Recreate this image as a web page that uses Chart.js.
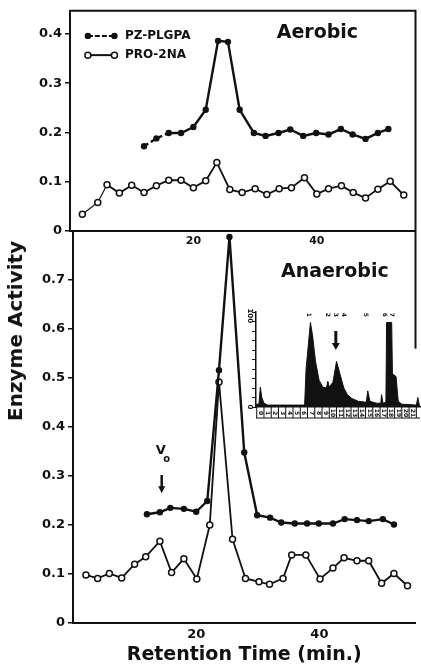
<!DOCTYPE html>
<html>
<head>
<meta charset="utf-8">
<title>Enzyme Activity</title>
<script src="https://cdn.jsdelivr.net/npm/chart.js@4.4.1/dist/chart.umd.min.js"></script>
<style>
  body { margin: 0; background: #fff; }
  #wrap { position: relative; width: 421px; height: 666px; overflow: hidden; background: #fff; }
  #wrap canvas { position: absolute; }
  #ytitle {
    position: absolute; left: 15px; top: 331px;
    font: bold 20px "DejaVu Sans"; color: #111; white-space: nowrap;
    transform: translate(-50%, -50%) rotate(-90deg);
  }
</style>
</head>
<body>
<div id="wrap">
  <canvas id="bottomChart" width="421" height="666" style="left:0;top:0"></canvas>
  <canvas id="topChart" width="421" height="250" style="left:0;top:0"></canvas>
  <canvas id="insetChart" width="185" height="125" style="left:236px;top:296px"></canvas>
  <div id="ytitle">Enzyme Activity</div>
</div>
<script>
// Aerobic run (top panel), retention time in min
const aeroPzTime = [12, 14, 16, 18, 20, 22, 24, 25.6, 27.5, 29.8, 31.7, 33.8, 35.7, 37.8, 39.9, 41.9, 43.9, 45.8, 47.9, 49.9, 51.6];
const aeroPzValue = [0.172, 0.188, 0.199, 0.199, 0.211, 0.246, 0.386, 0.384, 0.246, 0.199, 0.193, 0.199, 0.206, 0.193, 0.199, 0.196, 0.207, 0.196, 0.187, 0.199, 0.207];
const aeroProTime = [2, 4.5, 6, 8, 10, 12, 14, 16, 18, 20, 22, 23.8, 25.9, 27.9, 30, 31.9, 33.9, 35.9, 38, 40, 41.9, 44, 45.9, 47.9, 49.9, 51.9, 54.1];
const aeroProValue = [0.034, 0.058, 0.094, 0.077, 0.093, 0.078, 0.092, 0.103, 0.103, 0.088, 0.102, 0.139, 0.084, 0.078, 0.086, 0.074, 0.086, 0.088, 0.108, 0.075, 0.086, 0.092, 0.078, 0.067, 0.085, 0.101, 0.073];

// Anaerobic run (bottom panel)
const anaePzTime = [12, 14.1, 15.8, 18, 20, 21.8, 23.7, 25.4, 27.8, 29.9, 32, 33.8, 36, 38, 39.9, 42.2, 44.1, 46.1, 48, 50.3, 52.1];
const anaePzValue = [0.222, 0.226, 0.235, 0.233, 0.227, 0.249, 0.516, 0.788, 0.348, 0.220, 0.215, 0.205, 0.203, 0.203, 0.203, 0.203, 0.212, 0.210, 0.208, 0.212, 0.201];
const anaeProTime = [2.1, 4, 5.9, 7.9, 10, 11.8, 14.1, 16, 18, 20.1, 22.2, 23.7, 25.9, 28, 30.2, 31.9, 34.1, 35.5, 37.8, 40.1, 42.2, 44, 46.1, 48, 50.1, 52.1, 54.3];
const anaeProValue = [0.098, 0.091, 0.101, 0.092, 0.120, 0.135, 0.167, 0.103, 0.131, 0.090, 0.200, 0.492, 0.171, 0.091, 0.084, 0.079, 0.091, 0.139, 0.139, 0.090, 0.112, 0.133, 0.127, 0.127, 0.081, 0.101, 0.076];

// Inset chromatogram (relative absorbance, %)
const insetTime = [-0.6, -0.2, 0, 0.2, 0.5, 1, 6.1, 6.3, 6.9, 7.2, 7.6, 8.1, 8.6, 9.1, 9.3, 9.5, 10, 10.5, 11, 11.5, 12, 12.6, 13.5, 14.6, 14.8, 15.1, 16, 16.6, 16.7, 16.9, 17.3, 17.4, 18.1, 18.2, 18.7, 19, 19.5, 21.5, 21.7, 21.9, 22];
const insetValue = [3, 3, 21, 10, 4, 2, 2, 40, 89, 75, 48, 28, 21, 20, 27, 21, 26, 48, 34, 20, 13, 9, 6, 5, 17, 6, 4, 4, 13, 4, 5, 89, 89, 35, 32, 6, 3, 2, 10, 2, 2];
const insetPeakLabels = ['1', '2', '3', '4', '5', '6', '7'];
const insetPeakTimes = [6.6, 9.2, 10.3, 11.4, 14.5, 17.1, 18.1];

const FONT = 'DejaVu Sans';
const INK = '#111';

function pts(xs, ys) {
  return xs.map((x, i) => ({ x: x, y: ys[i] }));
}

// keep only the 0.1 steps up to a limit
function keepTenths(scale, top) {
  scale.ticks = scale.ticks.filter(t =>
    Math.abs(t.value * 10 - Math.round(t.value * 10)) < 1e-6 && t.value <= top + 1e-6);
}

function tickText(v) {
  return v === 0 ? '0' : (Math.round(v * 10) / 10).toFixed(1);
}

const pzStyle = {
  borderColor: INK, borderWidth: 2.4, pointRadius: 3.2,
  pointBackgroundColor: INK, pointBorderColor: INK, pointBorderWidth: 0
};
const proStyle = {
  borderColor: INK, borderWidth: 1.8, pointRadius: 3,
  pointBackgroundColor: '#fff', pointBorderColor: INK, pointBorderWidth: 1.5
};

function yAxis(max, top, width) {
  return {
    min: 0, max: max,
    afterFit: s => { s.width = width; },
    afterBuildTicks: s => keepTenths(s, top),
    border: { color: INK, width: 2 },
    grid: { drawOnChartArea: false, tickLength: 5, color: INK, lineWidth: 1.5 },
    ticks: { padding: 3, color: INK, font: { family: FONT, weight: 'bold', size: 13 }, callback: tickText }
  };
}

function xAxis(max, height, size, pad) {
  return {
    type: 'linear', min: 0, max: max,
    afterFit: s => { s.height = height; },
    border: { color: INK, width: 2 },
    grid: { display: false, drawTicks: false },
    ticks: { stepSize: 20, padding: pad, color: INK, font: { family: FONT, weight: 'bold', size: size },
      callback: v => (v === 20 || v === 40) ? v : '' }
  };
}

// frame, panel label and legend of the aerobic panel
const topDecor = {
  id: 'topDecor',
  afterDraw(chart) {
    const { ctx, chartArea: a, scales: { x, y } } = chart;
    ctx.save();
    ctx.strokeStyle = INK;
    ctx.lineWidth = 2;
    ctx.beginPath();
    ctx.moveTo(a.left, a.top);
    ctx.lineTo(a.right, a.top);
    ctx.lineTo(a.right, a.bottom);
    ctx.stroke();

    ctx.fillStyle = INK;
    ctx.font = 'bold 19px "' + FONT + '"';
    ctx.textAlign = 'center';
    ctx.textBaseline = 'middle';
    ctx.fillText('Aerobic', x.getPixelForValue(40.1), y.getPixelForValue(0.402));

    const x0 = x.getPixelForValue(2.9), x1 = x.getPixelForValue(7.2), tx = x.getPixelForValue(8.9);
    const rows = [y.getPixelForValue(0.396), y.getPixelForValue(0.357)];
    ctx.lineWidth = 2;
    ctx.setLineDash([5, 2]);
    ctx.beginPath(); ctx.moveTo(x0, rows[0]); ctx.lineTo(x1, rows[0]); ctx.stroke();
    ctx.setLineDash([]);
    ctx.beginPath(); ctx.moveTo(x0, rows[1]); ctx.lineTo(x1, rows[1]); ctx.stroke();
    [x0, x1].forEach(px => {
      ctx.beginPath(); ctx.arc(px, rows[0], 3.2, 0, Math.PI * 2); ctx.fill();
      ctx.beginPath(); ctx.arc(px, rows[1], 3, 0, Math.PI * 2);
      ctx.fillStyle = '#fff'; ctx.fill(); ctx.lineWidth = 1.5; ctx.stroke();
      ctx.fillStyle = INK;
    });
    ctx.font = 'bold 12px "' + FONT + '"';
    ctx.textAlign = 'left';
    ctx.fillText('PZ-PLGPA', tx, rows[0]);
    ctx.fillText('PRO-2NA', tx, rows[1]);
    ctx.restore();
  }
};

// panel label, void volume marker and partial right border of the anaerobic panel
const bottomDecor = {
  id: 'bottomDecor',
  afterDraw(chart) {
    const { ctx, chartArea: a, scales: { x, y } } = chart;
    ctx.save();
    ctx.strokeStyle = INK;
    ctx.fillStyle = INK;
    ctx.lineWidth = 2;
    ctx.beginPath();
    ctx.moveTo(a.right, a.top);
    ctx.lineTo(a.right, y.getPixelForValue(0.56));
    ctx.stroke();

    ctx.font = 'bold 19px "' + FONT + '"';
    ctx.textAlign = 'center';
    ctx.textBaseline = 'middle';
    ctx.fillText('Anaerobic', x.getPixelForValue(42.5), y.getPixelForValue(0.716));

    const vx = x.getPixelForValue(14.4);
    ctx.font = 'bold 13px "' + FONT + '"';
    ctx.fillText('V', vx - 1, y.getPixelForValue(0.351));
    ctx.font = 'bold 10px "' + FONT + '"';
    ctx.fillText('o', vx + 5, y.getPixelForValue(0.333));

    const ya = y.getPixelForValue(0.302), yb = y.getPixelForValue(0.265);
    ctx.lineWidth = 2.5;
    ctx.beginPath(); ctx.moveTo(vx, ya); ctx.lineTo(vx, yb - 6); ctx.stroke();
    ctx.beginPath(); ctx.moveTo(vx - 3.5, yb - 7); ctx.lineTo(vx + 3.5, yb - 7); ctx.lineTo(vx, yb); ctx.closePath(); ctx.fill();
    ctx.restore();
  }
};

// ruler strip, peak numbers and arrow of the inset trace
const insetDecor = {
  id: 'insetDecor',
  afterDraw(chart) {
    const { ctx, chartArea: a, scales: { x, y } } = chart;
    ctx.save();
    ctx.strokeStyle = INK;
    ctx.fillStyle = INK;
    ctx.lineWidth = 1;
    ctx.beginPath();
    ctx.moveTo(a.left, a.bottom + 11); ctx.lineTo(a.right, a.bottom + 11);
    for (let i = 0; i <= 22; i++) {
      const px = x.getPixelForValue(i - 0.5);
      if (px < a.left || px > a.right) continue;
      ctx.moveTo(px, a.bottom); ctx.lineTo(px, a.bottom + 11);
    }
    ctx.stroke();

    function rotText(txt, px, py, size) {
      ctx.save();
      ctx.translate(px, py);
      ctx.rotate(Math.PI / 2);
      ctx.font = 'bold ' + size + 'px "' + FONT + '"';
      ctx.textAlign = 'center';
      ctx.textBaseline = 'middle';
      ctx.fillText(txt, 0, 0);
      ctx.restore();
    }
    for (let i = 0; i <= 21; i++) {
      rotText(String(i), x.getPixelForValue(i), a.bottom + 6, 6);
    }
    insetPeakLabels.forEach((lab, i) => rotText(lab, x.getPixelForValue(insetPeakTimes[i]), y.getPixelForValue(97), 6));
    rotText('100', a.left - 6, y.getPixelForValue(96), 7);
    rotText('0', a.left - 6, y.getPixelForValue(0), 7);

    const ax = x.getPixelForValue(10.4);
    const ya = y.getPixelForValue(80), yb = y.getPixelForValue(60);
    ctx.lineWidth = 3;
    ctx.beginPath(); ctx.moveTo(ax, ya); ctx.lineTo(ax, yb - 5); ctx.stroke();
    ctx.beginPath(); ctx.moveTo(ax - 4, yb - 7); ctx.lineTo(ax + 4, yb - 7); ctx.lineTo(ax, yb); ctx.closePath(); ctx.fill();
    ctx.restore();
  }
};

const quiet = { legend: { display: false }, tooltip: { enabled: false } };

new Chart(document.getElementById('bottomChart'), {
  type: 'line',
  data: {
    datasets: [
      Object.assign({ label: 'PZ-PLGPA', data: pts(anaePzTime, anaePzValue) }, pzStyle),
      Object.assign({ label: 'PRO-2NA', data: pts(anaeProTime, anaeProValue) }, proStyle)
    ]
  },
  options: {
    responsive: false, animation: false,
    layout: { padding: { top: 231, right: 1, left: 0, bottom: 0 } },
    plugins: quiet,
    scales: {
      x: Object.assign(xAxis(55.6, 43, 13, 4), {
        title: { display: true, text: 'Retention Time (min.)', color: INK,
          font: { family: FONT, weight: 'bold', size: 19 }, padding: { top: 2, bottom: 0 } }
      }),
      y: yAxis(0.8, 0.7, 73)
    }
  },
  plugins: [bottomDecor]
});

new Chart(document.getElementById('topChart'), {
  type: 'line',
  data: {
    datasets: [
      Object.assign({ label: 'PZ-PLGPA', data: pts(aeroPzTime, aeroPzValue),
        segment: { borderDash: c => c.p0DataIndex < 2 ? [5, 3] : undefined } }, pzStyle),
      Object.assign({ label: 'PRO-2NA', data: pts(aeroProTime, aeroProValue),
        segment: { borderWidth: c => c.p0DataIndex < 2 ? 1.2 : undefined } }, proStyle)
    ]
  },
  options: {
    responsive: false, animation: false,
    layout: { padding: { top: 10, right: 1, left: 0, bottom: 0 } },
    plugins: quiet,
    scales: {
      x: xAxis(56, 19, 11, 4),
      y: yAxis(0.447, 0.4, 70)
    }
  },
  plugins: [topDecor]
});

new Chart(document.getElementById('insetChart'), {
  type: 'line',
  data: {
    datasets: [{
      label: 'trace', data: pts(insetTime, insetValue),
      borderColor: INK, borderWidth: 1, backgroundColor: INK, fill: 'origin', pointRadius: 0
    }]
  },
  options: {
    responsive: false, animation: false,
    layout: { padding: { top: 16, right: 1, left: 0, bottom: 0 } },
    plugins: quiet,
    scales: {
      x: { type: 'linear', min: -0.6, max: 22, afterFit: s => { s.height = 14; },
        border: { color: INK, width: 1.5 }, grid: { display: false }, ticks: { display: false } },
      y: { min: 0, max: 100, afterFit: s => { s.width = 20; },
        border: { color: INK, width: 1.5 },
        grid: { drawOnChartArea: false, tickLength: 4, color: INK },
        ticks: { stepSize: 10, display: false } }
    }
  },
  plugins: [insetDecor]
});
</script>
</body>
</html>
